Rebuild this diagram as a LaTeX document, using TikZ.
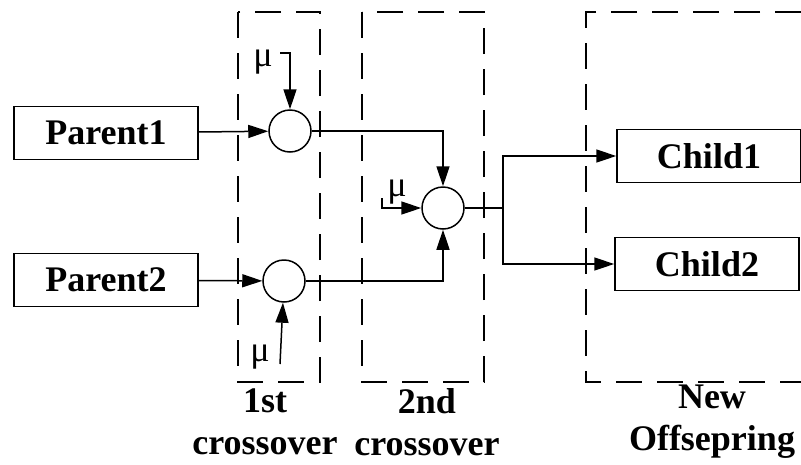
\documentclass[tikz,border=0pt]{standalone}
\usepackage{fontspec}
\setmainfont{Liberation Serif}
\usepackage{tikz}
\usetikzlibrary{arrows.meta}

\begin{document}
\begin{tikzpicture}[
    x=1pt, y=-1pt,
    box/.style={rectangle, draw, line width=1.5pt, minimum width=184pt, minimum height=53pt, font=\fontsize{36}{44}\selectfont\bfseries},
    op/.style={circle, draw, line width=1.5pt, minimum size=42pt, inner sep=0pt},
    mu/.style={inner sep=0pt, font=\fontsize{36}{40}\selectfont},
    lbl/.style={align=center, inner sep=0pt, font=\fontsize{36}{42}\selectfont\bfseries},
    frame/.style={line width=2pt, dash pattern=on 26pt off 15pt},
    arrow/.style={-{Triangle[length=20pt,width=13pt]}, line width=1.5pt},
    wire/.style={line width=1.5pt}
]
    \useasboundingbox (0,0) rectangle (801,464);

    \draw[frame] (238,12) rectangle (320,382);
    \draw[frame] (362,12) rectangle (484,382);
    \draw[frame] (801,12) -- (586,12) -- (586,382) -- (801,382);

    \node[box] (p1) at (106,133) {Parent1};
    \node[box] (p2) at (106,280) {Parent2};
    \node[op] (c1) at (290,131) {};
    \node[op] (c2) at (284,281) {};
    \node[op] (c3) at (443,208) {};
    \node[box] (ch1) at (709,156) {Child1};
    \node[box] (ch2) at (707,264) {Child2};

    \node[mu] (m1) at (263,62) {μ};
    \node[mu] (m2) at (260,357) {μ};
    \node[mu] (m3) at (397,192) {μ};
    \coordinate (m1s) at (280,53);
    \coordinate (m2s) at (280,364);
    \coordinate (m3s) at (382,198);
    \coordinate (sp) at (503,208);

    \draw[arrow] (p1) -- (c1);
    \draw[arrow] (p2) -- (c2);
    \draw[arrow] (m1s) -| (c1);
    \draw[arrow] (m2s) -- (c2);
    \draw[arrow] (m3s) |- (c3);
    \draw[arrow] (c1) -| (c3);
    \draw[arrow] (c2) -| (c3);
    \draw[wire] (c3) -- (sp);
    \draw[arrow] (sp) |- (ch1);
    \draw[arrow] (sp) |- (ch2);

    \node[lbl] (l1) at (265,422) {1st\\crossover};
    \node[lbl] (l2) at (427,422) {2nd\\crossover};
    \node[lbl] (l3) at (712,422) {New\\Offsepring};
\end{tikzpicture}
\end{document}
